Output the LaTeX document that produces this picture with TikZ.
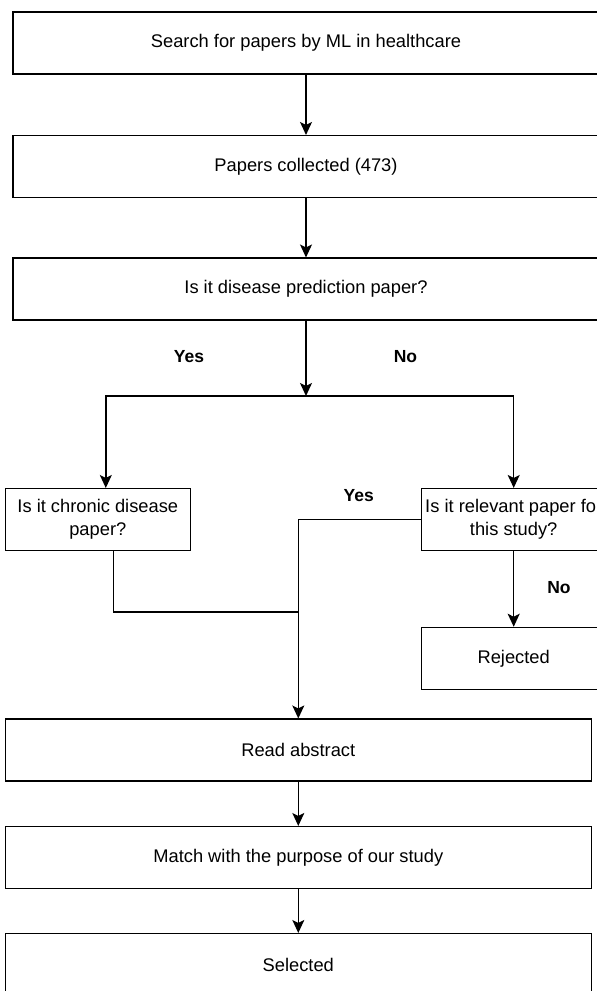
\documentclass[tikz,border=0pt]{standalone}
\usepackage{fontspec}
\setmainfont{Liberation Sans}
\usepackage{tikz}
\usetikzlibrary{positioning,arrows.meta}
\tikzstyle{chart} = [x = 1pt, y = -1pt, every node/.style={font=\fontsize{18.3}{23.4}\selectfont}]
\tikzstyle{stepBox} = [draw=black, line width=1.1pt, inner sep=0pt, align=center]
\tikzstyle{wideBox} = [stepBox, minimum width=586pt, minimum height=62pt]
\tikzstyle{narrowBox} = [stepBox, minimum width=185pt, minimum height=62pt]
\tikzstyle{flowLine} = [line width=1.4pt]
\tikzstyle{flowArrow} = [flowLine, -{Stealth[length=13pt, width=12pt, inset=3pt]}]
\tikzstyle{answerText} = [font=\fontsize{17.5}{22}\selectfont\bfseries]
\newcommand{\wideStep}[3]{\node [wideBox] (#1) at (#2) {#3};}
\newcommand{\narrowStep}[3]{\node [narrowBox] (#1) at (#2) {#3};}

\begin{document}
\begin{tikzpicture}[chart]
  \useasboundingbox (0,0) rectangle (597,991);
  \clip (0,0) rectangle (597,991);

  \wideStep{search}{306,43}{Search for papers by ML in healthcare}
  \wideStep{collected}{306,166.5}{Papers collected (473)}
  \wideStep{prediction}{306,289}{Is it disease prediction paper?}
  \narrowStep{chronic}{97.8,519.5}{Is it chronic disease\\paper?}
  \narrowStep{relevant}{513.7,519.5}{Is it relevant paper for\\this study?}
  \narrowStep{rejected}{513.7,658.3}{Rejected}
  \wideStep{abstract}{298.3,750}{Read abstract}
  \wideStep{purpose}{298.3,857.5}{Match with the purpose of our study}
  \wideStep{selected}{298.3,964.5}{Selected}

  \coordinate (split) at (306,396);
  \coordinate (merge) at (298.3,612);

  \draw [flowArrow] (search) -- (collected);
  \draw [flowArrow] (collected) -- (prediction);
  \draw [flowArrow] (prediction) -- (split);
  \draw [flowArrow] (split) -| ([xshift=8pt]chronic.north);
  \draw [flowArrow] (split) -| (relevant.north);
  \draw [flowArrow] (relevant.west) -| (abstract.north);
  \draw [flowLine] ([xshift=15.7pt]chronic.south) |- (merge);
  \draw [flowArrow] (relevant) -- (rejected);
  \draw [flowArrow] (abstract) -- (purpose);
  \draw [flowArrow] (purpose) -- (selected);

  \node [answerText] (yesLeft) at (189,357) {Yes};
  \node [answerText] (noRight) at (405.5,357) {No};
  \node [answerText] (yesRelevant) at (358.7,496) {Yes};
  \node [answerText] (noRelevant) at (559,588) {No};
\end{tikzpicture}
\end{document}
